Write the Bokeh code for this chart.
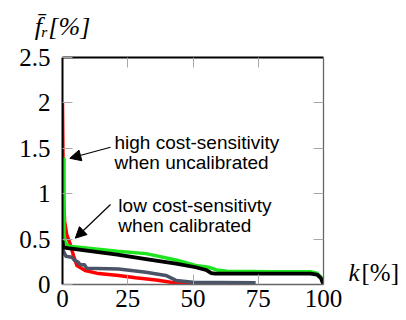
from bokeh.plotting import figure
from bokeh.models import LinearAxis, FixedTicker, Label, Arrow, NormalHead, Range1d
from bokeh.embed import file_html
from bokeh.resources import INLINE

# ---- data ----
x_ticks = [0, 25, 50, 75, 100]
x_tick_labels = ["0", "25", "50", "75", "100"]
y_ticks = [0, 0.5, 1, 1.5, 2, 2.5]
y_tick_labels = ["0", "0.5", "1", "1.5", "2", "2.5"]
x_inner_ticks = [25, 50, 75]
y_inner_ticks = [0.5, 1, 1.5, 2]

k_red = [0, 0.15, 0.35, 0.8, 1.6, 2.9, 4.2, 5.5, 8.7, 13.8, 21.5, 28, 35.8, 41.5, 47, 50]
f_red = [2.0, 1.5, 1.0, 0.7, 0.55, 0.45, 0.32, 0.21, 0.155, 0.12, 0.10, 0.074, 0.05, 0.025, 0.005, 0.0]

k_green = [0.6, 0.6, 0.9, 1.6, 2.5, 10, 21, 32, 43.5, 51, 56, 59, 63, 80, 95, 97.5, 99, 100]
f_green = [1.40, 0.55, 0.47, 0.44, 0.42, 0.40, 0.365, 0.34, 0.27, 0.21, 0.19, 0.16, 0.145, 0.14, 0.14, 0.125, 0.08, 0.0]

k_gray = [0, 1.3, 3.6, 4.6, 5.9, 6.8, 8.4, 9.3, 21.5, 32, 39.6, 43.5, 50, 60, 74]
f_gray = [0.39, 0.31, 0.30, 0.265, 0.25, 0.217, 0.217, 0.18, 0.17, 0.136, 0.10, 0.045, 0.025, 0.022, 0.018]

k_black = [0, 0.3, 2, 10, 21, 32, 43.5, 51, 55, 57, 58.5, 65, 95, 97.5, 99, 100]
f_black = [0.48, 0.41, 0.40, 0.37, 0.33, 0.28, 0.23, 0.19, 0.16, 0.125, 0.12, 0.12, 0.12, 0.11, 0.07, 0.0]

note_high = ["high cost-sensitivity", "when uncalibrated"]
note_low = ["low cost-sensitivty", "when calibrated"]

y_title = "f\u0304\u1d63[%]"
x_title_var = "k"
x_title_unit = "[%]"
x_title_pos = 0.135

# ---- figure ----
p = figure(width=406, height=320, x_range=Range1d(0, 100), y_range=Range1d(0, 2.5),
           output_backend="svg", toolbar_location=None,
           min_border_left=62, min_border_right=83, min_border_top=57, min_border_bottom=36)
p.grid.visible = False
p.outline_line_color = None
p.background_fill_color = "white"
p.border_fill_color = "white"

SERIF = "Liberation Serif"
TICK_COLOR = "#a8a8a8"

def style_axis(ax, ticks, labels, line_color, line_width, standoff, show_labels=True, tick_len=10):
    ax.ticker = FixedTicker(ticks=ticks)
    if labels is not None:
        ax.major_label_overrides = {t: l for t, l in zip(ticks, labels)}
    ax.major_tick_in = tick_len
    ax.major_tick_out = 0
    ax.minor_tick_in = 0
    ax.minor_tick_out = 0
    ax.major_tick_line_color = TICK_COLOR if tick_len else None
    ax.major_tick_line_width = 1
    ax.axis_line_color = line_color
    ax.axis_line_width = line_width
    ax.major_label_text_font = SERIF
    ax.major_label_standoff = standoff
    if show_labels:
        ax.major_label_text_font_size = "25px"
        ax.major_label_text_color = "black"
    else:
        ax.major_label_text_font_size = "1px"
        ax.major_label_text_color = None

# bottom / left: ticks and labels
style_axis(p.xaxis[0], x_ticks, x_tick_labels, "#666666", 1.3, 5)
style_axis(p.yaxis[0], y_ticks, y_tick_labels, "black", 2, 12)

# top / right: tick marks only
top = LinearAxis()
style_axis(top, x_inner_ticks, None, "black", 2, 0, show_labels=False)
p.add_layout(top, "above")
right = LinearAxis()
style_axis(right, y_inner_ticks, None, "#666666", 1.3, 0, show_labels=False)
p.add_layout(right, "right")

# axis titles carried by label-only axes
top_title = LinearAxis()
style_axis(top_title, [0], [y_title], None, 1, 17, tick_len=0)
top_title.major_label_text_font_style = "italic"
top_title.major_label_text_font_size = "26px"
p.add_layout(top_title, "above")

right_title_k = LinearAxis()
style_axis(right_title_k, [x_title_pos], [x_title_var], None, 1, 25, tick_len=0)
right_title_k.major_label_text_font_style = "italic"
right_title_k.major_label_text_font_size = "25px"
p.add_layout(right_title_k, "right")

right_title_u = LinearAxis()
style_axis(right_title_u, [x_title_pos], [x_title_unit], None, 1, -1, tick_len=0)
right_title_u.major_label_text_font_size = "25px"
p.add_layout(right_title_u, "right")

# ---- curves ----
p.line(k_red, f_red, line_color="#ff0000", line_width=3.5, line_join="round")
p.line(k_green, f_green, line_color="#1ee61e", line_width=3.5, line_join="round")
p.line(k_gray, f_gray, line_color="#4a5466", line_width=3.5, line_join="round")
p.line(k_black, f_black, line_color="black", line_width=3.8, line_join="round")

# ---- annotations ----
SANS = "Liberation Sans"
for txt, yb in zip(note_high, [1.567, 1.347]):
    p.add_layout(Label(x=19.9, y=yb, text=txt, text_font=SANS, text_font_size="19px",
                       text_align="left", text_baseline="alphabetic", text_color="black"))
for txt, yb in zip(note_low, [0.870, 0.650]):
    p.add_layout(Label(x=21.4, y=yb, text=txt, text_font=SANS, text_font_size="19px",
                       text_align="left", text_baseline="alphabetic", text_color="black"))

p.add_layout(Arrow(end=NormalHead(size=11, fill_color="black", line_color="black"),
                   x_start=18.4, y_start=1.512, x_end=2.8, y_end=1.39,
                   line_color="black", line_width=1.2))
p.add_layout(Arrow(end=NormalHead(size=11, fill_color="black", line_color="black"),
                   x_start=18.4, y_start=0.881, x_end=4.9, y_end=0.51,
                   line_color="black", line_width=1.2))

open("out.html", "w").write(file_html(p, INLINE))
